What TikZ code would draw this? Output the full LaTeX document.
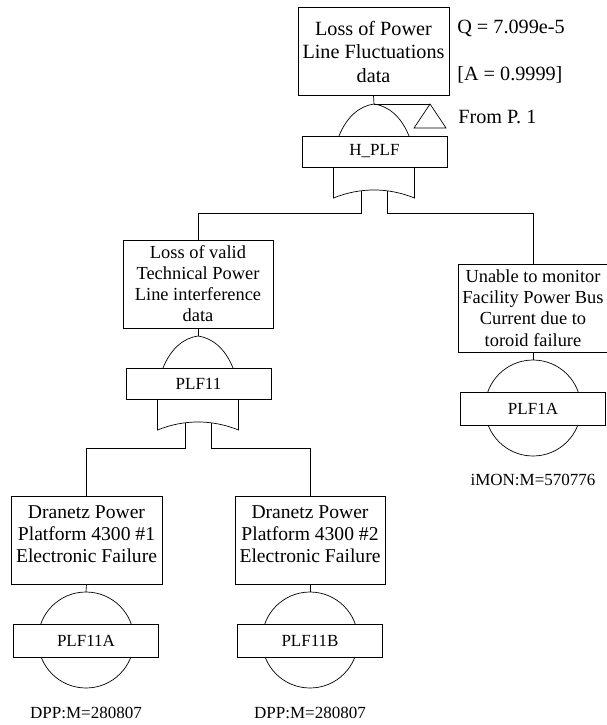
\documentclass[tikz,border=0pt]{standalone}
\usepackage{fontspec}
\setmainfont{Liberation Serif}
\begin{document}
\begin{tikzpicture}[x=1pt,y=-1pt,line width=0.7pt,
  evbox/.style={draw,rectangle,align=center,inner sep=0pt,minimum height=88pt},
  gatelbl/.style={draw,fill=white,rectangle,inner sep=0pt,minimum width=145pt,minimum height=31pt,font=\fontsize{17}{20}\selectfont},
  basiclbl/.style={gatelbl,minimum height=33pt},
  note/.style={inner sep=0pt,anchor=west,font=\fontsize{20.2}{23.5}\selectfont},
  code/.style={inner sep=0pt,font=\fontsize{17}{20}\selectfont},
  orgate/.pic={
    \coordinate (-in) at (0,0);
    \draw (-35,32) .. controls (-27,12) and (-14,2) .. (0,0)
          .. controls (14,2) and (27,12) .. (35,32);
    \draw (-40.5,63) -- (-40.5,94) .. controls (-14,83.3) and (14,83.3) .. (40.5,94) -- (40.5,63);
    \node[gatelbl] (-lbl) at (0.5,47.5) {#1};
    \coordinate (-outl) at (-13,87);
    \coordinate (-outr) at (13,87);
  },
  basicev/.pic={
    \coordinate (-in) at (0,0);
    \node[draw,circle,minimum size=96pt,inner sep=0pt] (-circ) at (0,48) {};
    \node[basiclbl] (-lbl) at (0,48.5) {#1};
  }
]
\useasboundingbox (0,0) rectangle (607,725);

% top event and its OR gate
\node[evbox,minimum width=151pt,font=\fontsize{20.2}{23.5}\selectfont] (top) at (373.5,51.5)
  {Loss of Power\\Line Fluctuations\\data};
\pic (g1) at (374,104) {orgate={H\_PLF}};
\draw (top.south) -- (g1-in);
\node[note] (q) at (457,28) {Q = 7.099e-5};
\node[note] (a) at (457,75) {[A = 0.9999]};

% transfer-in triangle
\coordinate (xfer) at (430,104);
\draw (g1-in) -- (xfer);
\draw (xfer) -- ++(-16,24) -- ++(32,0) -- cycle;
\node[note] (from) at (458,117) {From P. 1};

% second level
\node[evbox,minimum width=150pt,font=\fontsize{18.4}{21}\selectfont] (mid) at (198,284)
  {Loss of valid\\Technical Power\\Line interference\\data};
\node[evbox,minimum width=150pt,font=\fontsize{18.4}{21.3}\selectfont] (right) at (533,308)
  {Unable to monitor\\Facility Power Bus\\Current due to\\toroid failure};
\draw (g1-outl) -- ++(0,22) -| (mid.north);
\draw (g1-outr) -- ++(0,22) -| (right.north);

\pic (g2) at (198,336) {orgate={PLF11}};
\draw (mid.south) -- (g2-in);

\pic (b3) at (533,360) {basicev={PLF1A}};
\draw (right.south) -- (b3-in);
\node[code] (b3code) at (533,480) {iMON:M=570776};

% bottom level
\node[evbox,minimum width=151pt,font=\fontsize{19.6}{22}\selectfont,text depth=12pt] (d1) at (86.5,540)
  {Dranetz Power\\Platform 4300 \#1\\Electronic Failure};
\node[evbox,minimum width=150pt,font=\fontsize{19.6}{22}\selectfont,text depth=12pt] (d2) at (310,540)
  {Dranetz Power\\Platform 4300 \#2\\Electronic Failure};
\draw (g2-outl) -- ++(0,25) -| (d1.north);
\draw (g2-outr) -- ++(0,25) -| (d2.north);

\pic (b1) at (86,592) {basicev={PLF11A}};
\pic (b2) at (310,592) {basicev={PLF11B}};
\draw (d1.south) -- (b1-in);
\draw (d2.south) -- (b2-in);
\node[code] (b1code) at (86,713) {DPP:M=280807};
\node[code] (b2code) at (310,713) {DPP:M=280807};
\end{tikzpicture}
\end{document}
